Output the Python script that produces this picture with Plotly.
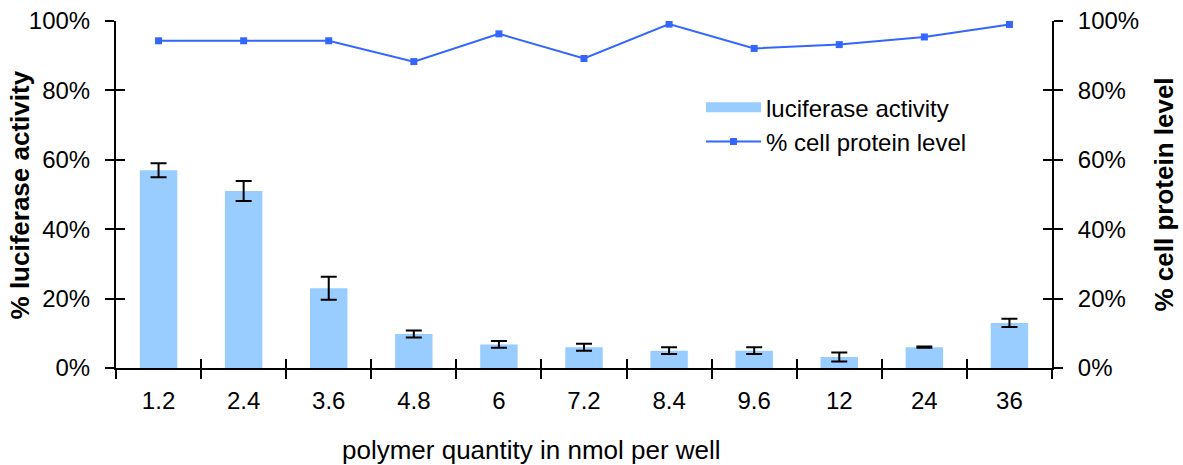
import plotly.graph_objects as go

# polymer quantity per well (nmol)
quantities = ["1.2", "2.4", "3.6", "4.8", "6", "7.2", "8.4", "9.6", "12", "24", "36"]
# luciferase activity (%) with standard deviation
luciferase = [57.0, 51.0, 23.0, 9.8, 6.8, 6.0, 5.0, 5.0, 3.2, 6.0, 13.0]
luciferase_sd = [2.0, 2.9, 3.3, 1.0, 1.0, 1.0, 1.0, 1.0, 1.3, 0.2, 1.2]
# cell protein level (%)
protein = [94.3, 94.3, 94.3, 88.3, 96.3, 89.2, 99.1, 92.1, 93.2, 95.4, 99.0]

y_ticks = [0, 20, 40, 60, 80, 100]
y_tick_labels = ["0%", "20%", "40%", "60%", "80%", "100%"]

FONT = "Liberation Sans, Arial, sans-serif"
BAR_COLOR = "#99CCFF"
LINE_COLOR = "#3366FF"

fig = go.Figure()

fig.add_trace(go.Bar(
    x=quantities, y=luciferase,
    marker=dict(color=BAR_COLOR, line=dict(width=0)),
    error_y=dict(type="data", array=luciferase_sd, color="black", thickness=2, width=8),
    name="luciferase activity", showlegend=False,
    xaxis="x", yaxis="y",
))

# legend entry for the bars drawn as a wide swatch
fig.add_trace(go.Scatter(
    x=[None], y=[None], mode="lines",
    line=dict(color=BAR_COLOR, width=16),
    name="luciferase activity", xaxis="x", yaxis="y",
))

fig.add_trace(go.Scatter(
    x=quantities, y=protein, mode="lines+markers",
    line=dict(color=LINE_COLOR, width=2),
    marker=dict(symbol="square", size=7, color=LINE_COLOR),
    name="% cell protein level",
    xaxis="x", yaxis="y2",
))

# invisible traces that anchor the inward-facing tick axes
fig.add_trace(go.Scatter(x=quantities, y=protein, mode="markers", opacity=0,
                         showlegend=False, hoverinfo="skip", xaxis="x3", yaxis="y3"))
fig.add_trace(go.Scatter(x=quantities, y=protein, mode="markers", opacity=0,
                         showlegend=False, hoverinfo="skip", xaxis="x3", yaxis="y4"))

axis_common = dict(showgrid=False, zeroline=False, linecolor="black", linewidth=2,
                   tickcolor="black", tickwidth=2, ticklen=9, automargin=False)

x_common = dict(type="category", categoryorder="array", categoryarray=quantities,
                range=[-0.5, len(quantities) - 0.5], tickson="boundaries")
y_common = dict(range=[0, 100], tickmode="array", tickvals=y_ticks, ticktext=y_tick_labels)

title_font = dict(size=26, family=FONT, color="black")

fig.update_layout(
    width=1183, height=465,
    margin=dict(l=116, r=131, t=21, b=97, autoexpand=False),
    paper_bgcolor="white", plot_bgcolor="white",
    font=dict(family=FONT, size=24, color="black"),
    bargap=0.56,
    showlegend=True,
    legend=dict(x=0.625, y=0.815, xanchor="left", yanchor="top",
                bgcolor="rgba(0,0,0,0)", font=dict(size=24, family=FONT),
                itemwidth=55, tracegroupgap=0, traceorder="normal"),
    xaxis=dict(**axis_common, **x_common, ticks="outside", showline=True,
               ticklabelstandoff=10, anchor="y"),
    xaxis3=dict(**axis_common, **x_common, ticks="inside", showline=False,
                showticklabels=False, overlaying="x", anchor="y3"),
    yaxis=dict(**axis_common, **y_common, ticks="outside", showline=True,
               ticklabelstandoff=10),
    yaxis2=dict(**axis_common, **y_common, ticks="outside", showline=True,
                ticklabelstandoff=10, side="right", overlaying="y", anchor="x"),
    yaxis3=dict(**axis_common, **y_common, ticks="inside", showline=False,
                showticklabels=False, overlaying="y", side="left", anchor="x3"),
    yaxis4=dict(**axis_common, **y_common, ticks="inside", showline=False,
                showticklabels=False, overlaying="y", side="right", anchor="x3"),
    annotations=[
        dict(text="polymer quantity in nmol per well", xref="paper", yref="paper",
             x=0.444, y=-0.187, xanchor="center", yanchor="top", showarrow=False,
             font=title_font),
        dict(text="<b>% luciferase activity</b>", xref="paper", yref="paper",
             x=-0.1026, y=0.5, xanchor="center", yanchor="middle", textangle=-90,
             showarrow=False, font=title_font),
        dict(text="<b>% cell protein level</b>", xref="paper", yref="paper",
             x=1.1186, y=0.5, xanchor="center", yanchor="middle", textangle=-90,
             showarrow=False, font=title_font),
    ],
)

fig.write_html("out.html")
